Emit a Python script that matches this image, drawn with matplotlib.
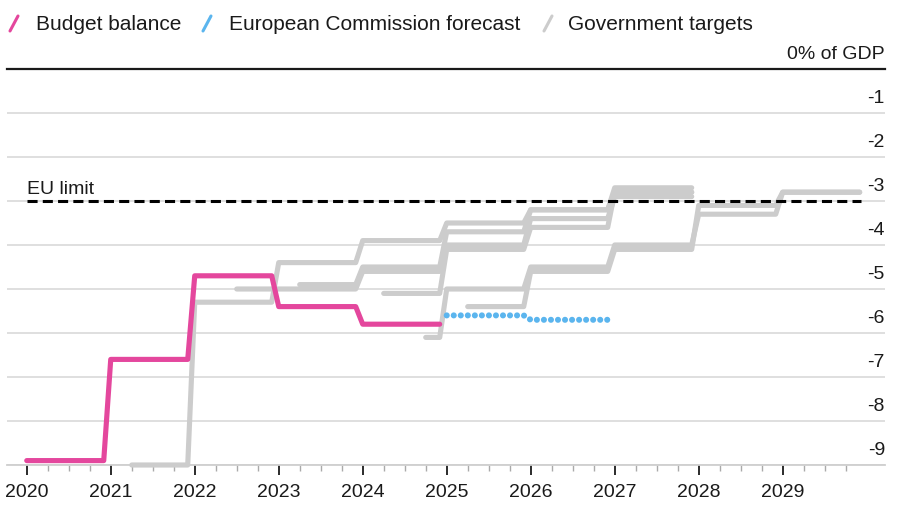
import matplotlib
matplotlib.use("Agg")
import matplotlib.pyplot as plt
import matplotlib.transforms as mtransforms
from matplotlib.lines import Line2D
from matplotlib.ticker import FixedLocator

plt.rcParams['font.family'] = ['Liberation Sans', 'DejaVu Sans']

# ---- data ----
bb_first_year = 2020
bb_values = [-8.9, -6.6, -4.7, -5.4, -5.8]          # 2020-2024

ec_first_year = 2025
ec_values = [-5.6, -5.7]                             # 2025-2026

# Government targets: (publication time, first target year, yearly targets)
gt1_start, gt1_first, gt1_values = 2021.25, 2021, [-9.0, -5.3, -4.4, -3.9, -3.5, -3.2, -2.8]
gt2_start, gt2_first, gt2_values = 2022.5, 2022, [-5.0, -5.0, -4.6, -4.0, -3.4, -2.9]
gt3_start, gt3_first, gt3_values = 2023.25, 2023, [-4.9, -4.5, -3.7, -3.2, -2.7]
gt4_start, gt4_first, gt4_values = 2024.25, 2024, [-5.1, -4.1, -3.6, -2.8]
gt5_start, gt5_first, gt5_values = 2024.75, 2024, [-6.1, -5.0, -4.5, -4.0, -3.3, -2.8]
gt6_start, gt6_first, gt6_values = 2025.25, 2025, [-5.4, -4.6, -4.1, -3.1, -2.8]

eu_limit = -3.0
eu_span = [2020, 2029.93]

y_ticks = [0, -1, -2, -3, -4, -5, -6, -7, -8, -9]
y_labels = ['0% of GDP', '-1', '-2', '-3', '-4', '-5', '-6', '-7', '-8', '-9']
x_years = [2020, 2021, 2022, 2023, 2024, 2025, 2026, 2027, 2028, 2029]

legend_labels = ['Budget balance', 'European Commission forecast', 'Government targets']

PINK = '#e4479d'
BLUE = '#5bb5ee'
GRAY = '#cccccc'
DARK = '#1a1a1a'


def step_xy(start, first_year, values):
    xs, ys = [], []
    for i, v in enumerate(values):
        yr = first_year + i
        xs += [max(start, yr), yr + 11 / 12]
        ys += [v, v]
    return xs, ys


fig = plt.figure(figsize=(9, 5.1), dpi=100)
ax = fig.add_axes([7 / 900, 44 / 510, 878 / 900, 396 / 510])
ax.set_xlim(2019.765, 2030.218)
ax.set_ylim(-9, 0)
for s in ax.spines.values():
    s.set_visible(False)

# gridlines
ax.set_yticks(y_ticks)
ax.set_yticklabels(y_labels)
ax.grid(axis='y', color='#d6d6d6', lw=1.1, zorder=0)
ax.set_axisbelow(True)
ax.axhline(0, color=DARK, lw=1.6, clip_on=False, zorder=1)
ax.axhline(-9, color='#cfcfcf', lw=1.3, clip_on=False, zorder=1)

# y labels on right, above gridlines
ax.yaxis.tick_right()
ax.tick_params(axis='y', length=0, pad=0, labelsize=14, labelcolor=DARK)
offset = mtransforms.ScaledTranslation(0, 15.5 / 100, fig.dpi_scale_trans)
for tick in ax.yaxis.get_major_ticks():
    tick.label2.set_horizontalalignment('right')
    tick.label2.set_verticalalignment('center')
    tick.label2.set_transform(tick.label2.get_transform() + offset)

# x ticks
ax.set_xticks(x_years)
ax.set_xticklabels([str(y) for y in x_years])
ax.xaxis.set_minor_locator(FixedLocator([y + q / 4 for y in x_years for q in (1, 2, 3)]))
ax.tick_params(axis='x', which='major', length=7, width=1.3, color=DARK,
               labelsize=14, labelcolor=DARK, pad=6)
ax.tick_params(axis='x', which='minor', length=4, width=1, color='#aaaaaa')

# government targets
for st, fy, vals in [(gt1_start, gt1_first, gt1_values), (gt2_start, gt2_first, gt2_values),
                     (gt3_start, gt3_first, gt3_values), (gt4_start, gt4_first, gt4_values),
                     (gt5_start, gt5_first, gt5_values), (gt6_start, gt6_first, gt6_values)]:
    xs, ys = step_xy(st, fy, vals)
    ax.plot(xs, ys, color=GRAY, lw=3.7, solid_capstyle='round', solid_joinstyle='round',
            clip_on=False, zorder=2)

# EU limit
ax.plot(eu_span, [eu_limit, eu_limit], color='black', lw=2.2,
        linestyle=(0, (3.3, 1.7)), zorder=3)
ax.annotate('EU limit', xy=(eu_span[0], eu_limit), xytext=(0, 6), textcoords='offset points',
            ha='left', va='baseline', fontsize=14, color=DARK)

# budget balance
xs, ys = step_xy(bb_first_year, bb_first_year, bb_values)
ax.plot(xs, ys, color=PINK, lw=3.7, solid_capstyle='round', solid_joinstyle='round', zorder=4)

# EC forecast (dotted)
xs, ys = step_xy(ec_first_year, ec_first_year, ec_values)
ax.plot(xs, ys, color=BLUE, lw=4.4, linestyle=(0, (0.001, 1.15)), dash_capstyle='round', zorder=4)

# legend
legend_x = [36, 229, 568]
slash_x = [10, 203, 544]
for lx, sx, lab, col in zip(legend_x, slash_x, legend_labels, [PINK, BLUE, GRAY]):
    fig.text(lx / 900, 1 - 25 / 510, lab, fontsize=15, color=DARK, ha='left', va='center')
    fig.add_artist(Line2D([sx / 900, (sx + 8) / 900], [1 - 32 / 510, 1 - 17 / 510],
                          transform=fig.transFigure, color=col, lw=2.2,
                          solid_capstyle='round'))

fig.savefig('out.png', dpi=100, facecolor='white')
